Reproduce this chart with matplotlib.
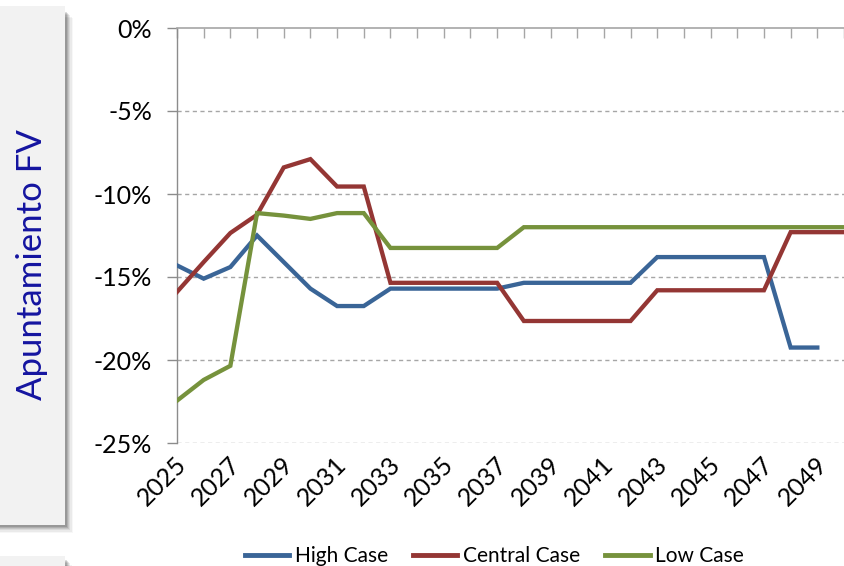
import numpy as np
import matplotlib
matplotlib.use("Agg")
import matplotlib.pyplot as plt
import matplotlib.transforms as mtransforms
from matplotlib.patches import Rectangle
from matplotlib.ticker import FixedLocator, FuncFormatter

plt.rcParams['font.family'] = ['Lato', 'DejaVu Sans']

years = list(range(2025, 2051))
high_case = [-14.3, -15.1, -14.4, -12.5, -14.1, -15.7, -16.75, -16.75, -15.7, -15.7,
             -15.7, -15.7, -15.7, -15.35, -15.35, -15.35, -15.35, -15.35, -13.8, -13.8,
             -13.8, -13.8, -13.8, -19.25, -19.25, np.nan]
central_case = [-15.9, -14.1, -12.35, -11.25, -8.4, -7.9, -9.55, -9.55, -15.35, -15.35,
                -15.35, -15.35, -15.35, -17.65, -17.65, -17.65, -17.65, -17.65, -15.8, -15.8,
                -15.8, -15.8, -15.8, -12.3, -12.3, -12.3]
low_case = [-22.45, -21.2, -20.35, -11.15, -11.3, -11.5, -11.15, -11.15, -13.25, -13.25,
            -13.25, -13.25, -13.25, -12.0, -12.0, -12.0, -12.0, -12.0, -12.0, -12.0,
            -12.0, -12.0, -12.0, -12.0, -12.0, -12.0]
series_names = ["High Case", "Central Case", "Low Case"]
series_colors = ["#3A6597", "#943634", "#76923C"]
y_ticks = [0, -5, -10, -15, -20, -25]
label_years = list(range(2025, 2050, 2))

W, H = 844, 566
fig = plt.figure(figsize=(W / 100, H / 100), dpi=100)

def fx(px):
    return px / W

def fy(py):
    return 1 - py / H

# side panels with a soft drop shadow
shadow_alphas = [0.03, 0.05, 0.07, 0.09, 0.11, 0.13]
for i, a in enumerate(shadow_alphas):
    off = 8 - i * 1.3
    fig.patches.append(Rectangle((fx(0), fy(525 + off)), fx(65 + off), fy(10 + off) - fy(525 + off),
                                 transform=fig.transFigure, facecolor="#000000", alpha=a,
                                 edgecolor="none", zorder=0))
fig.patches.append(Rectangle((fx(0), fy(525)), fx(65), fy(6) - fy(525),
                             transform=fig.transFigure, facecolor="#F2F2F2",
                             edgecolor="none", zorder=1))
for i, a in enumerate(shadow_alphas):
    off = 8 - i * 1.3
    fig.patches.append(Rectangle((fx(0), 0), fx(65 + off), fy(558 + off),
                                 transform=fig.transFigure, facecolor="#000000", alpha=a,
                                 edgecolor="none", zorder=0))
fig.patches.append(Rectangle((fx(0), 0), fx(65), fy(556),
                             transform=fig.transFigure, facecolor="#F2F2F2",
                             edgecolor="none", zorder=1))
fig.text(fx(32), fy(265), "Apuntamiento FV", rotation=90, ha="center", va="center",
         fontsize=25, color="#1414A0", zorder=3)

ax = fig.add_axes([fx(177), fy(443), fx(844 - 177), fy(28) - fy(443)])
x_right = 2025 + (844 - 177) / 26.9
ax.set_xlim(2025, x_right)
ax.set_ylim(-25, 0)

for vals, name, col in zip([high_case, central_case, low_case], series_names, series_colors):
    ax.plot(years, vals, color=col, lw=3.1, label=name, solid_joinstyle="miter", zorder=3)

# dashed gridlines
for t in y_ticks[1:]:
    ax.axhline(t, color="#A6A6A6", lw=1.0, ls=(0, (3, 2.5)), zorder=1)

for s in ["right", "bottom"]:
    ax.spines[s].set_visible(False)
ax.spines["left"].set_color("#8C8C8C")
ax.spines["top"].set_color("#A6A6A6")
ax.spines["left"].set_linewidth(1.0)
ax.spines["top"].set_linewidth(1.2)

ax.yaxis.set_major_locator(FixedLocator(y_ticks))
ax.yaxis.set_major_formatter(FuncFormatter(lambda v, p: f"{int(round(v))}%"))
ax.tick_params(axis="y", direction="out", length=7, width=1.0, color="#8C8C8C",
               labelsize=18, pad=11)

ax.set_xticks(label_years)
ax.set_xticklabels([str(y) for y in label_years])
ax.set_xticks(years, minor=True)
ax.tick_params(axis="x", which="both", bottom=False, top=True, labelbottom=True,
               labeltop=False, direction="in", length=7, width=1.0, color="#A6A6A6")
ax.tick_params(axis="x", which="major", labelsize=18, pad=13)
shift = mtransforms.ScaledTranslation(6 / 100, 0, fig.dpi_scale_trans)
for lbl in ax.get_xticklabels():
    lbl.set_rotation(45)
    lbl.set_ha("right")
    lbl.set_va("center")
    lbl.set_rotation_mode("anchor")
    lbl.set_transform(lbl.get_transform() + shift)

fig.legend(loc="center", bbox_to_anchor=(fx(494), fy(556)), ncol=3, frameon=False,
           fontsize=15, handlelength=2.15, handletextpad=0.25, columnspacing=1.2)
for ln in fig.legends[0].get_lines():
    ln.set_linewidth(3.5)

fig.savefig("out.png", dpi=100)
